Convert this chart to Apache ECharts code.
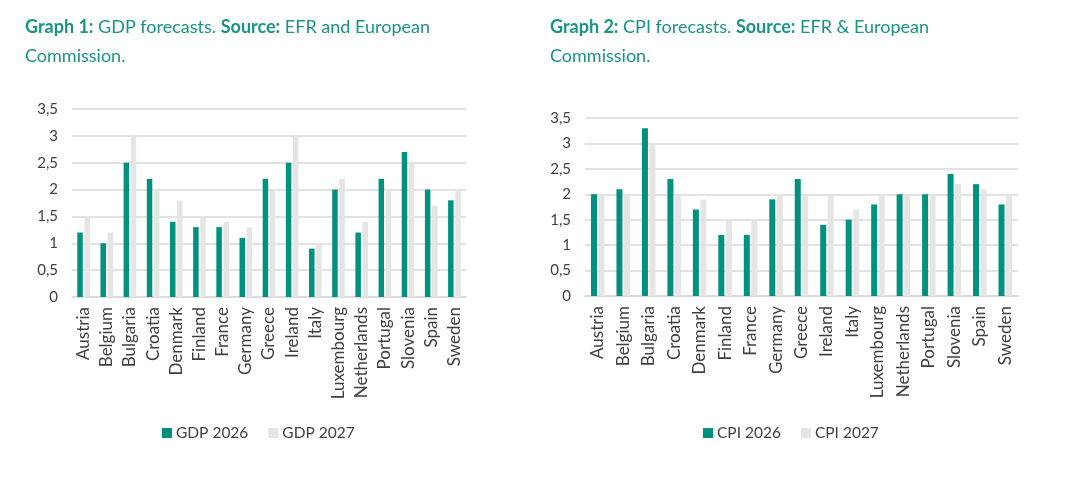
<!DOCTYPE html>
<html>
<head>
<meta charset="utf-8">
<script src="https://cdn.jsdelivr.net/npm/echarts@6/dist/echarts.min.js"></script>
<style>
html,body{margin:0;padding:0;background:#fff;}
#c{width:1071px;height:493px;}
</style>
</head>
<body>
<div id="c"></div>
<script>
const countries = ['Austria','Belgium','Bulgaria','Croatia','Denmark','Finland','France','Germany','Greece','Ireland','Italy','Luxembourg','Netherlands','Portugal','Slovenia','Spain','Sweden'];
const gdp2026 = [1.2,1.0,2.5,2.2,1.4,1.3,1.3,1.1,2.2,2.5,0.9,2.0,1.2,2.2,2.7,2.0,1.8];
const gdp2027 = [1.5,1.2,3.0,2.0,1.8,1.5,1.4,1.3,2.0,3.0,1.0,2.2,1.4,2.0,2.5,1.7,2.0];
const cpi2026 = [2.0,2.1,3.3,2.3,1.7,1.2,1.2,1.9,2.3,1.4,1.5,1.8,2.0,2.0,2.4,2.2,1.8];
const cpi2027 = [2.0,2.0,3.0,2.0,1.9,1.5,1.5,2.0,2.0,2.0,1.7,2.0,2.0,2.0,2.2,2.1,2.0];
const yTicks = ['0','0,5','1','1,5','2','2,5','3','3,5'];

const TEAL = '#00917f';
const GREY = '#e6e5e5';
const FONT = 'Lato, "Open Sans", sans-serif';
const chart = echarts.init(document.getElementById('c'));

function yAxis(gi){
  return {
    gridIndex: gi, type:'value', min:0, max:3.5, interval:0.5,
    axisLine:{show:false}, axisTick:{show:false},
    splitLine:{lineStyle:{color:'#d9d9d9', width:1.5}},
    axisLabel:{color:'#404040', fontSize:15, fontFamily:FONT, margin:14,
      formatter:(v)=> yTicks[Math.round(v/0.5)]}
  };
}
function xAxis(gi){
  return {
    gridIndex: gi, type:'category', data: countries,
    axisLine:{lineStyle:{color:'#d9d9d9', width:1.5}}, axisTick:{show:false},
    axisLabel:{rotate:90, interval:0, color:'#404040', fontSize:17, fontFamily:FONT, margin:10}
  };
}
const titleRich = {
  b:{fontWeight:'bold', color:'#1a9585', fontSize:18, fontFamily:FONT, lineHeight:29},
  n:{fontWeight:'normal', color:'#1a9585', fontSize:18, fontFamily:FONT, lineHeight:29}
};
const legendCommon = {
  padding:0, itemWidth:10, itemHeight:10, itemGap:20, icon:'rect',
  itemStyle:{borderWidth:0},
  textStyle:{color:'#404040', fontSize:15.5, fontFamily:FONT, padding:[0,0,0,-1]}
};
chart.setOption({
  animation:false,
  title:[
    {left:20, top:8, text:'{b|Graph 1:}{n| GDP forecasts. }{b|Source:}{n| EFR and European}\n{n|Commission.}', textStyle:{fontWeight:'normal', rich:titleRich}},
    {left:545, top:8, text:'{b|Graph 2:}{n| CPI forecasts. }{b|Source:}{n| EFR & European}\n{n|Commission.}', textStyle:{fontWeight:'normal', rich:titleRich}}
  ],
  legend:[
    Object.assign({left:162, top:425, data:['GDP 2026','GDP 2027']}, legendCommon),
    Object.assign({left:703, top:425, data:['CPI 2026','CPI 2027']}, legendCommon)
  ],
  grid:[
    {left:72, top:109, width:394, height:188},
    {left:585, top:118, width:433, height:178}
  ],
  xAxis:[xAxis(0), xAxis(1)],
  yAxis:[yAxis(0), yAxis(1)],
  series:[
    {name:'GDP 2026', type:'bar', xAxisIndex:0, yAxisIndex:0, data:gdp2026, barWidth:5.5, barGap:'30%', itemStyle:{color:TEAL}},
    {name:'GDP 2027', type:'bar', xAxisIndex:0, yAxisIndex:0, data:gdp2027, barWidth:5.5, barGap:'30%', itemStyle:{color:GREY}},
    {name:'CPI 2026', type:'bar', xAxisIndex:1, yAxisIndex:1, data:cpi2026, barWidth:6, barGap:'25%', itemStyle:{color:TEAL}},
    {name:'CPI 2027', type:'bar', xAxisIndex:1, yAxisIndex:1, data:cpi2027, barWidth:6, barGap:'25%', itemStyle:{color:GREY}}
  ]
});
</script>
</body>
</html>
